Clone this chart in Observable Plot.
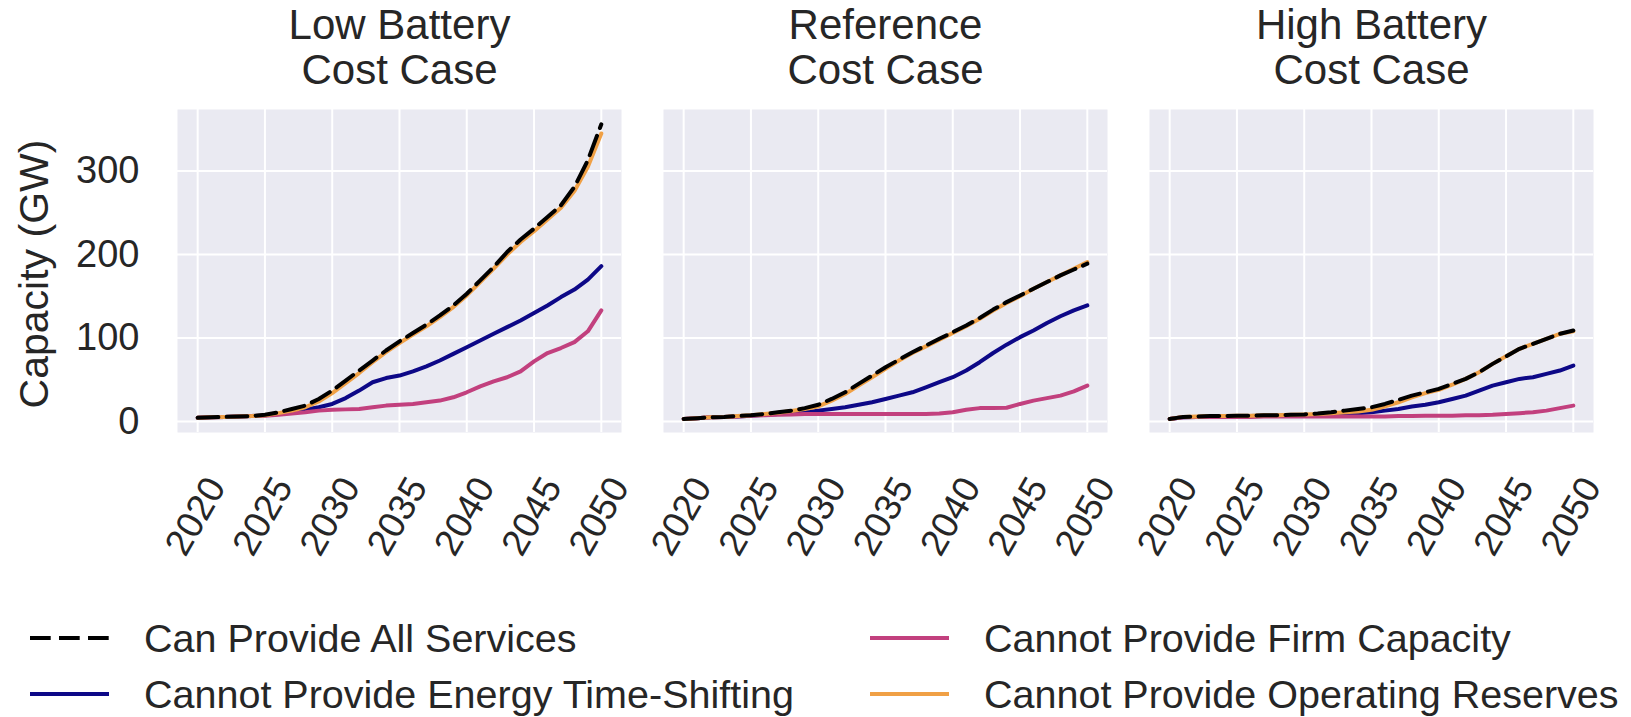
<!DOCTYPE html>
<html><head><meta charset="utf-8">
<script src="https://cdn.jsdelivr.net/npm/d3@7"></script>
<script src="https://cdn.jsdelivr.net/npm/@observablehq/plot@0.6"></script>
<style>
html,body{margin:0;padding:0;background:#fff;}
body{font-family:"Liberation Sans",Arial,Helvetica,sans-serif;}
#wrap{position:relative;width:1631px;height:717px;overflow:hidden;}
#legend{position:absolute;left:0;top:0;width:1631px;height:717px;}
.item{position:absolute;height:40px;font-size:39.5px;line-height:40px;color:#262626;white-space:nowrap;}
.item svg{position:absolute;top:0;}
.item span{position:absolute;top:0;}
</style></head><body>
<div id="wrap"><div id="chart"></div><div id="legend"></div></div>
<script>
const years = [2020,2021,2022,2023,2024,2025,2026,2027,2028,2029,2030,2031,2032,2033,2034,2035,2036,2037,2038,2039,2040,2041,2042,2043,2044,2045,2046,2047,2048,2049,2050];
const cases = ["Low Battery Cost Case", "Reference Cost Case", "High Battery Cost Case"];
const caseTitles = ["Low Battery\nCost Case", "Reference\nCost Case", "High Battery\nCost Case"];
const seriesNames = ["Can Provide All Services", "Cannot Provide Energy Time-Shifting", "Cannot Provide Firm Capacity", "Cannot Provide Operating Reserves"];
const seriesColors = ["#000000", "#0d0887", "#c2407e", "#f0a045"];
const tickYears = [2020, 2025, 2030, 2035, 2040, 2045, 2050];
const yTicks = [0, 100, 200, 300];

// Low Battery Cost Case
const low_all  = [4.5,5,5.5,6,6.5,8,11,15,19,27,37,49,61,73,85,96,106,116,127,139,153,169,185,203,218,231,245,259,281,313,356];
const low_ets  = [4.5,5,5.5,6,6.5,7.5,9,11,14,17,21,28,37,47,52,55,60,66,73,81,89,97,105,113,121,130,139,149,158,170,186];
const low_firm = [4.5,5,5.5,6,6.5,7,8,9.5,11,13,14,14.5,15,17,19,20,21,23,25,29,35,42,48,53,60,72,82,88,95,108,133];
const low_res  = [4.5,5,5.5,6,6.5,7.5,10,13,17,24,34,46,58,71,83,94,104,114,125,137,151,167,183,200,215,228,242,256,276,305,345];
// Reference Cost Case
const ref_all  = [3,4,5,5.5,6.5,7.5,9,11,13,16,20,27,35,45,55,65,74,83,91,99,107,115,124,134,143,151,159,167,175,182,189];
const ref_ets  = [3,4,5,5.5,6,7,8,9,10,11,13,15,17,20,23,27,31,35,41,47,53,61,71,82,92,101,109,118,126,133,139];
const ref_firm = [3,4,5,5.5,6,7,7.5,8,8.5,9,9,9,9,9,9,9,9,9,9,9.5,11,14,16,16,16.5,21,25,28,31,36,43];
const ref_res  = [3,4,5,5.5,6.5,7.5,9,10.5,12.5,15,18,25,33,43,53,63,73,82,90,98,106,114,123,133,142,150,159,167,175,183,191];
// High Battery Cost Case
const high_all  = [3,5.5,6,6.5,6.5,7,7,7.5,7.5,8,8.5,9.5,11,13,15,17,21,26,31,35,39,45,51,59,69,78,87,93,99,105,109];
const high_ets  = [3,5,5.5,6,6,6.5,6.5,7,7,7.5,7.5,8,8.5,9,10,11,13,15,18,20,23,27,31,37,43,47,51,53,57,61,67];
const high_firm = [3,5,5.5,5.5,5.5,5.5,5.5,6,6,6,6,6,6,6,6,6,6,6.5,6.5,7,7,7,7.5,7.5,8,9,10,11,13,16,19];
const high_res  = [3,5.5,6,6.5,6.5,7,7,7.5,7.5,8,8.5,9,10,11,12,14,18,23,29,34,38,44,51,59,69,78,87,93,99,105,108];

const valuesByCase = [
  [low_all, low_ets, low_firm, low_res],
  [ref_all, ref_ets, ref_firm, ref_res],
  [high_all, high_ets, high_firm, high_res]
];

const rows = [];
cases.forEach((c, ci) => {
  seriesNames.forEach((s, si) => {
    valuesByCase[ci][si].forEach((v, yi) => rows.push({case: c, series: s, year: years[yi], value: v}));
  });
});
const tickRows = [];
cases.forEach(c => tickYears.forEach(y => tickRows.push({case: c, year: y})));

const font = "'Liberation Sans', Arial, Helvetica, sans-serif";
const dash = "20.7,8.3";
const lw = 4;

function lineFor(si, extra = {}) {
  return Plot.line(rows.filter(d => d.series === seriesNames[si]), {
    x: "year", y: "value", fx: "case",
    stroke: seriesColors[si], strokeWidth: lw, strokeLinejoin: "round", ...extra
  });
}

const chart = Plot.plot({
  width: 1631, height: 600,
  marginLeft: 176, marginRight: 38, marginTop: 109, marginBottom: 168,
  style: {fontFamily: font, color: "#262626", background: "transparent", overflow: "visible"},
  x: {domain: [2018.5, 2051.5], axis: null},
  y: {domain: [-13.2, 373.7], axis: null},
  fx: {domain: cases, paddingInner: 0.0874, paddingOuter: 0, axis: null, label: null},
  marks: [
    Plot.frame({fill: "#EAEAF2", stroke: "none"}),
    Plot.gridX(tickYears, {stroke: "#ffffff", strokeOpacity: 1, strokeWidth: 2}),
    Plot.gridY(yTicks, {stroke: "#ffffff", strokeOpacity: 1, strokeWidth: 2}),
    lineFor(1),
    lineFor(2),
    lineFor(3),
    lineFor(0, {strokeDasharray: dash}),
    Plot.text(cases, {fx: d => d, text: d => caseTitles[cases.indexOf(d)], frameAnchor: "top", dy: -26,
      lineAnchor: "bottom", lineHeight: 1.07, fontSize: 42, fill: "#262626"}),
    Plot.axisY(yTicks, {anchor: "left", tickSize: 0, tickPadding: 38, fontSize: 38, label: null, fill: "#262626"}),
    Plot.text(["Capacity (GW)"], {fx: () => cases[0], text: d => d, frameAnchor: "left", rotate: -90,
      dx: -143, dy: 3, textAnchor: "middle", lineAnchor: "middle", fontSize: 41, fill: "#262626"}),
    Plot.text(tickRows, {x: "year", fx: "case", text: d => String(d.year), frameAnchor: "bottom",
      rotate: -60, dx: -2, dy: 84, textAnchor: "middle", lineAnchor: "middle", fontSize: 37, fill: "#262626"})
  ]
});
document.getElementById("chart").appendChild(chart);

// Legend (two columns, column-major like matplotlib ncol=2)
const legendPos = [
  {x: 30, y: 638}, {x: 30, y: 694}, {x: 870, y: 638}, {x: 870, y: 694}
];
const legend = document.getElementById("legend");
seriesNames.forEach((s, i) => {
  const p = legendPos[i];
  const item = document.createElement("div");
  item.className = "item";
  item.style.left = p.x + "px";
  item.style.top = (p.y - 20) + "px";
  const dashAttr = i === 0 ? ` stroke-dasharray="${dash}"` : "";
  item.innerHTML = `<svg width="80" height="40" style="left:0"><line x1="0" x2="79" y1="20" y2="20" stroke="${seriesColors[i]}" stroke-width="${lw}"${dashAttr}/></svg><span style="left:114px">${s}</span>`;
  legend.appendChild(item);
});
</script>
</body></html>
